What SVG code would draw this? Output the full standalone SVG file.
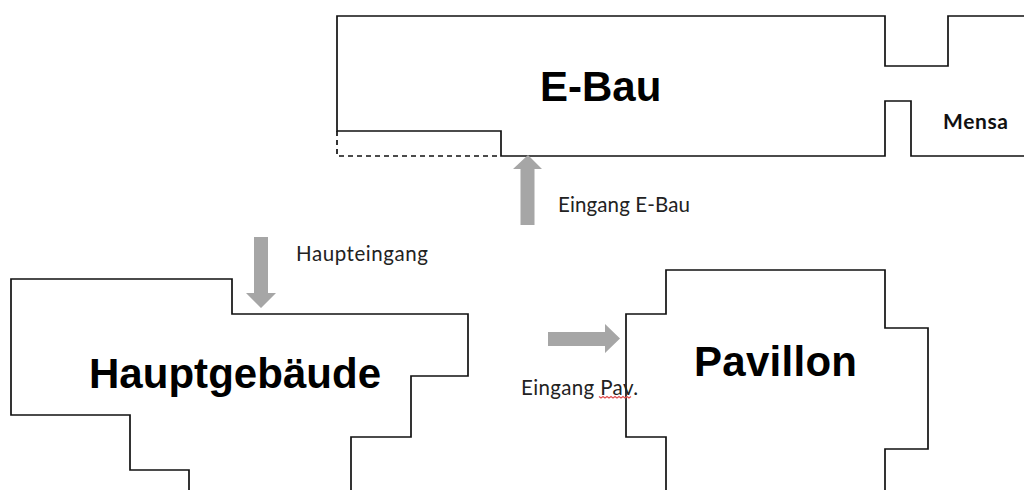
<svg xmlns="http://www.w3.org/2000/svg" width="1024" height="490" viewBox="0 0 1024 490">
<style>
.w{fill:none;stroke:#111;stroke-width:1.7}
.d{fill:none;stroke:#111;stroke-width:1.7;stroke-dasharray:5 4}
.a{fill:#a6a6a6}
.b{font-family:"Liberation Sans",Arial,sans-serif;font-weight:700;fill:#000;font-size:42px}
.l{font-family:Lato,"Open Sans",sans-serif;font-size:20.500px;fill:#222}
</style>
<rect width="1024" height="490" fill="#fff"/>
<g id="e-bau">
<path class="w" d="M1024 16H948V66H885V16H337V131H501V156H885V101H911V156H1024"/>
<path class="d" d="M337 131V156H501"/>
<text class="b" x="540" y="101">E-Bau</text>
</g>
<g id="mensa"><text x="943" y="129" textLength="65" style="font-family:Lato,'Open Sans',sans-serif;font-weight:700;font-size:21px;fill:#111">Mensa</text></g>
<g id="hauptgebaeude">
<path class="w" d="M189 490V470H130V415H11V279H232V314H468V376H411V437H351V490"/>
<text class="b" x="89" y="388" textLength="292">Hauptgebäude</text>
</g>
<g id="pavillon">
<path class="w" d="M666 490V437H626V314H666V270H885V328H928V449H885V490"/>
<text class="b" x="694" y="376" textLength="163">Pavillon</text>
</g>
<g id="connectors">
<path class="a" d="M520.500 225V169H513L528 155L542 169H534.500V225Z"/>
<path class="a" d="M254 237H268V293H276L261 308L246 293H254Z"/>
<path class="a" d="M548 332H605V324L620 338.500L605 353V346H548Z"/>
</g>
<g id="labels">
<text class="l" x="558" y="212" textLength="132">Eingang E-Bau</text>
<text class="l" x="296" y="261" textLength="132">Haupteingang</text>
<text class="l" x="521" y="395" textLength="117">Eingang Pav.</text>
<path d="M599 396.500l2 1.500 2-1.500 2 1.500 2-1.500 2 1.500 2-1.500 2 1.500 2-1.500 2 1.500 2-1.500 2 1.500 2-1.500 2 1.500 2-1.500 2 1.500 2-1.500" fill="none" stroke="#e05050" stroke-width="1.200"/>
</g>
</svg>
